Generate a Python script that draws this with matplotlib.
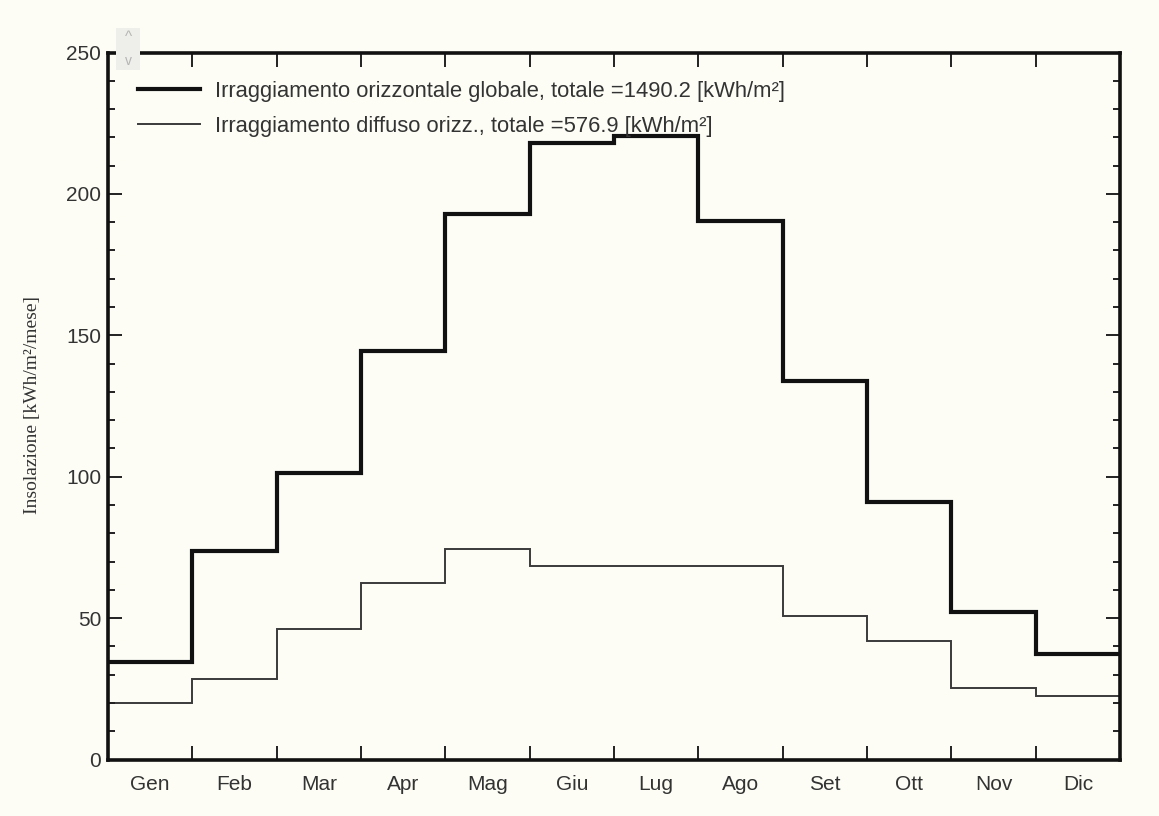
import matplotlib
matplotlib.use("Agg")
import matplotlib.pyplot as plt
from matplotlib.ticker import MultipleLocator, FixedLocator
from matplotlib.patches import Rectangle
import numpy as np

months = ["Gen", "Feb", "Mar", "Apr", "Mag", "Giu", "Lug", "Ago", "Set", "Ott", "Nov", "Dic"]
global_irr = [34.5, 73.8, 101.4, 144.5, 192.8, 217.9, 220.6, 190.5, 133.9, 90.9, 52.2, 37.2]
diffuse_irr = [19.9, 28.5, 46.2, 62.4, 74.4, 68.4, 68.4, 68.4, 50.7, 42.0, 25.2, 22.4]
global_label = "Irraggiamento orizzontale globale, totale =1490.2 [kWh/m²]"
diffuse_label = "Irraggiamento diffuso orizz., totale =576.9 [kWh/m²]"
y_label = "Insolazione [kWh/m²/mese]"

plt.rcParams["font.family"] = ["Liberation Sans", "DejaVu Sans"]

W, H = 1159, 816
bg = "#fdfdf6"
fig = plt.figure(figsize=(W / 100, H / 100), dpi=100, facecolor=bg)
ax = fig.add_axes([108 / W, 1 - 759.5 / H, (1120 - 108) / W, (759.5 - 52.5) / H])
ax.set_facecolor(bg)

edges = np.arange(len(months) + 1)
ax.stairs(global_irr, edges, color="#111111", linewidth=3.0, baseline=None,
          label=global_label)
ax.stairs(diffuse_irr, edges, color="#3a3a3a", linewidth=1.4, baseline=None,
          label=diffuse_label)

ax.set_xlim(0, 12)
ax.set_ylim(0, 250)

# month boundaries as tick marks, month names centred in each interval
ax.xaxis.set_major_locator(FixedLocator(edges[1:-1]))
ax.xaxis.set_minor_locator(FixedLocator(edges[:-1] + 0.5))
ax.set_xticklabels([], minor=False)
ax.set_xticklabels(months, minor=True)
ax.tick_params(axis="x", which="major", direction="in", length=10, width=1.4,
               top=True, bottom=True, color="#222222")
ax.tick_params(axis="x", which="minor", length=0, pad=11, labelsize=15,
               labelcolor="#333333")

ax.yaxis.set_major_locator(MultipleLocator(50))
ax.yaxis.set_minor_locator(MultipleLocator(10))
ax.tick_params(axis="y", which="major", direction="in", length=10, width=1.4,
               left=True, right=True, labelsize=15, labelcolor="#333333",
               pad=5, color="#222222")
ax.tick_params(axis="y", which="minor", direction="in", length=5, width=1.4,
               left=True, right=True, color="#222222")

for s in ax.spines.values():
    s.set_linewidth(2.6)
    s.set_color("#111111")

fig.text(33 / W, 1 - 405 / H, y_label, rotation=90, ha="center", va="center",
         fontsize=14, color="#333333", family=["Liberation Serif", "DejaVu Serif"])

leg = ax.legend(loc="upper left", bbox_to_anchor=(0.0296, 0.960), frameon=False,
                fontsize=15.8, handlelength=2.85, handletextpad=0.68,
                labelspacing=0.64, borderpad=0, borderaxespad=0)
for t in leg.get_texts():
    t.set_color("#333333")

# small scroll control in the corner
fig.patches.append(Rectangle((116 / W, 1 - 70 / H), 24 / W, 42 / H,
                             transform=fig.transFigure, facecolor="#eeeeea",
                             edgecolor="none", zorder=5))
fig.text(128 / W, 1 - 37 / H, "^", ha="center", va="center", fontsize=11,
         color="#b5b5b5", zorder=6)
fig.text(128 / W, 1 - 61 / H, "v", ha="center", va="center", fontsize=10,
         color="#b5b5b5", zorder=6)

fig.savefig("out.png", dpi=100, facecolor=bg)
